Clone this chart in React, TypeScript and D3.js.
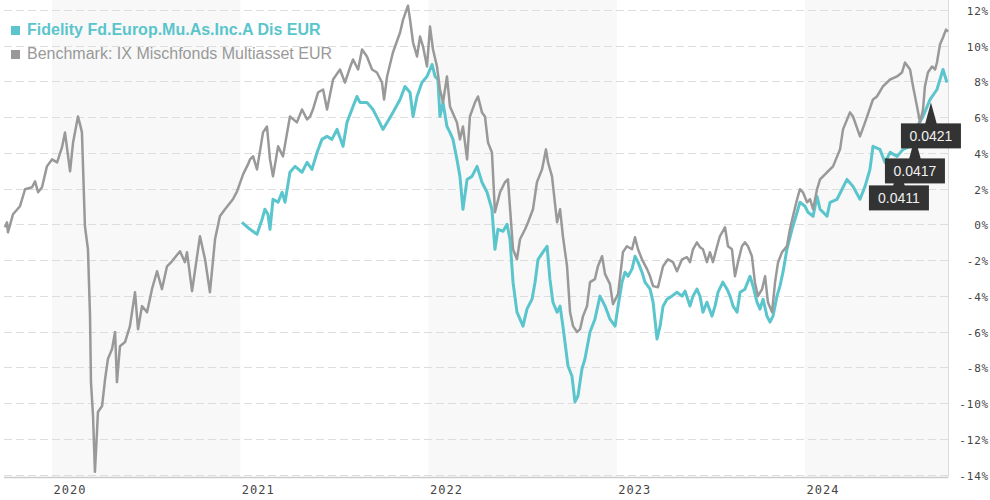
import React from "react";
import * as d3 from "d3";

// ---- data (decimal years, percent) ----
const benchT = [2019.750,2019.761,2019.766,2019.793,2019.830,2019.857,2019.894,2019.910,2019.926,2019.947,2019.973,2020.000,2020.027,2020.053,2020.069,2020.096,2020.112,2020.138,2020.149,2020.159,2020.175,2020.191,2020.202,2020.207,2020.218,2020.228,2020.239,2020.244,2020.266,2020.282,2020.297,2020.319,2020.335,2020.345,2020.361,2020.388,2020.414,2020.441,2020.457,2020.478,2020.505,2020.531,2020.558,2020.584,2020.611,2020.637,2020.680,2020.706,2020.717,2020.744,2020.786,2020.813,2020.839,2020.866,2020.892,2020.919,2020.961,2020.983,2021.015,2021.041,2021.052,2021.068,2021.089,2021.121,2021.142,2021.158,2021.174,2021.201,2021.227,2021.264,2021.301,2021.328,2021.355,2021.371,2021.386,2021.413,2021.440,2021.461,2021.493,2021.530,2021.556,2021.583,2021.599,2021.626,2021.647,2021.673,2021.700,2021.726,2021.753,2021.764,2021.780,2021.811,2021.849,2021.865,2021.891,2021.902,2021.918,2021.939,2021.955,2021.971,2021.992,2022.008,2022.024,2022.045,2022.061,2022.077,2022.098,2022.114,2022.151,2022.167,2022.183,2022.205,2022.220,2022.247,2022.263,2022.284,2022.300,2022.316,2022.337,2022.353,2022.380,2022.406,2022.422,2022.449,2022.470,2022.486,2022.513,2022.529,2022.555,2022.576,2022.603,2022.624,2022.635,2022.656,2022.683,2022.699,2022.714,2022.736,2022.752,2022.768,2022.789,2022.805,2022.821,2022.842,2022.858,2022.884,2022.900,2022.922,2022.938,2022.964,2022.980,2023.007,2023.033,2023.054,2023.081,2023.097,2023.113,2023.134,2023.161,2023.177,2023.193,2023.219,2023.246,2023.272,2023.299,2023.320,2023.347,2023.373,2023.389,2023.405,2023.426,2023.442,2023.458,2023.479,2023.495,2023.511,2023.533,2023.548,2023.575,2023.591,2023.612,2023.628,2023.644,2023.665,2023.681,2023.697,2023.718,2023.734,2023.750,2023.772,2023.788,2023.803,2023.825,2023.841,2023.857,2023.878,2023.904,2023.920,2023.936,2023.958,2023.973,2023.989,2024.011,2024.027,2024.043,2024.064,2024.080,2024.117,2024.149,2024.186,2024.202,2024.239,2024.255,2024.292,2024.319,2024.361,2024.382,2024.414,2024.452,2024.489,2024.515,2024.531,2024.558,2024.574,2024.595,2024.611,2024.627,2024.637,2024.653,2024.675,2024.691,2024.701,2024.717,2024.733,2024.749,2024.760];
const benchV = [-0.17,0.11,-0.45,0.56,1.01,1.96,2.07,2.40,1.79,2.07,3.24,3.63,3.46,4.30,5.14,2.96,4.58,6.03,5.59,5.14,-0.11,-1.40,-5.14,-8.83,-10.73,-13.85,-11.62,-10.50,-10.17,-8.66,-7.54,-6.98,-6.03,-8.83,-6.82,-6.59,-5.70,-3.80,-5.87,-4.58,-4.92,-3.63,-2.63,-3.63,-2.35,-2.07,-1.51,-2.12,-1.56,-3.74,-0.67,-1.96,-3.80,-0.84,0.45,0.84,1.40,1.84,2.79,3.35,3.63,3.80,3.07,5.14,5.47,3.63,2.68,4.36,3.80,6.03,5.70,6.42,5.87,6.03,6.42,7.37,7.54,6.42,8.10,8.66,7.93,8.77,9.22,8.66,9.78,9.39,8.66,8.49,7.93,6.98,8.27,9.61,10.73,11.45,12.23,11.45,10.17,9.39,10.50,9.94,8.83,11.06,9.78,8.83,7.54,6.82,8.27,6.59,5.70,4.75,5.47,3.63,6.03,6.82,7.15,6.26,6.03,4.58,4.02,0.67,1.79,2.35,2.51,-1.40,-1.96,-0.84,-0.28,0.11,0.84,2.35,3.07,4.19,3.46,2.68,0.11,0.84,-0.67,-2.35,-4.92,-5.70,-6.03,-5.87,-5.14,-4.58,-3.24,-3.07,-2.35,-1.79,-2.79,-3.35,-4.47,-3.91,-1.56,-1.23,-1.40,-0.73,-1.40,-1.96,-2.51,-2.91,-3.46,-3.52,-2.35,-1.96,-2.12,-2.63,-1.96,-1.84,-2.12,-1.40,-1.01,-1.28,-1.40,-2.12,-1.56,-2.12,-1.23,-0.67,-0.17,-1.23,-1.40,-2.91,-2.12,-1.23,-1.01,-1.23,-1.79,-3.24,-4.02,-3.63,-2.91,-4.36,-4.92,-3.24,-2.12,-1.56,-1.23,-0.28,0.45,1.40,1.96,1.79,1.23,1.40,0.84,1.96,2.51,2.91,3.24,4.19,5.31,6.26,6.03,4.92,5.70,6.98,7.15,7.71,8.10,8.27,8.49,9.05,8.66,7.71,6.59,5.70,6.42,7.71,8.49,8.83,8.66,9.05,10.06,10.45,10.89,10.78];

const fundT = [2021.009,2021.052,2021.089,2021.116,2021.131,2021.147,2021.158,2021.174,2021.201,2021.222,2021.238,2021.264,2021.291,2021.328,2021.355,2021.381,2021.408,2021.434,2021.461,2021.487,2021.514,2021.546,2021.567,2021.599,2021.620,2021.636,2021.673,2021.705,2021.732,2021.758,2021.780,2021.811,2021.849,2021.875,2021.902,2021.918,2021.939,2021.965,2021.992,2022.019,2022.035,2022.050,2022.061,2022.077,2022.098,2022.114,2022.130,2022.151,2022.167,2022.183,2022.205,2022.231,2022.258,2022.284,2022.311,2022.337,2022.353,2022.369,2022.396,2022.417,2022.433,2022.449,2022.470,2022.486,2022.502,2022.523,2022.550,2022.566,2022.582,2022.608,2022.630,2022.645,2022.661,2022.683,2022.699,2022.714,2022.741,2022.762,2022.778,2022.794,2022.815,2022.831,2022.858,2022.884,2022.911,2022.938,2022.964,2022.991,2023.007,2023.028,2023.044,2023.060,2023.081,2023.097,2023.113,2023.134,2023.150,2023.177,2023.193,2023.214,2023.230,2023.246,2023.267,2023.293,2023.320,2023.347,2023.363,2023.389,2023.405,2023.426,2023.442,2023.458,2023.479,2023.506,2023.522,2023.538,2023.564,2023.586,2023.602,2023.618,2023.639,2023.655,2023.681,2023.708,2023.724,2023.745,2023.761,2023.777,2023.798,2023.814,2023.830,2023.851,2023.867,2023.883,2023.904,2023.931,2023.958,2023.973,2024.000,2024.016,2024.043,2024.064,2024.080,2024.117,2024.133,2024.170,2024.197,2024.223,2024.255,2024.292,2024.319,2024.345,2024.361,2024.398,2024.425,2024.452,2024.489,2024.521,2024.558,2024.595,2024.627,2024.664,2024.701,2024.717,2024.733,2024.754];
const fundV = [0.11,-0.28,-0.56,0.28,0.84,0.56,-0.28,1.40,1.23,1.79,1.23,2.91,3.24,2.91,3.46,3.07,4.02,4.75,4.92,4.75,5.31,4.36,5.70,6.59,7.15,6.82,6.82,6.42,5.87,5.31,5.70,6.26,6.98,7.71,7.37,6.03,7.15,7.93,8.27,8.94,8.27,8.10,6.03,6.82,5.47,5.14,4.75,3.63,2.68,0.84,2.51,2.68,3.24,2.35,1.79,0.84,-1.40,-0.28,-0.39,0.00,-0.84,-3.24,-4.92,-5.31,-5.70,-4.75,-4.19,-3.24,-1.96,-1.56,-1.23,-3.07,-4.36,-4.92,-4.58,-5.70,-7.93,-8.49,-9.94,-9.61,-8.10,-7.54,-6.03,-5.31,-4.02,-4.58,-5.31,-5.70,-4.58,-3.24,-2.68,-2.91,-2.51,-1.79,-2.12,-2.68,-3.24,-3.63,-4.36,-6.42,-5.70,-4.58,-4.19,-4.02,-3.80,-4.02,-3.74,-4.58,-4.02,-3.63,-4.02,-4.92,-4.36,-5.14,-4.58,-3.80,-3.24,-3.63,-4.02,-4.58,-4.92,-3.80,-3.63,-2.91,-3.46,-4.36,-4.75,-4.19,-5.14,-5.47,-5.14,-4.02,-3.46,-2.68,-1.40,-0.28,0.67,1.23,1.01,0.67,0.45,1.56,0.84,0.45,1.23,1.40,1.96,2.51,2.12,1.40,2.12,3.07,4.36,4.19,3.46,4.02,3.80,4.19,4.36,5.47,6.03,6.98,7.54,8.10,8.66,7.93];

const yTicks = [12, 10, 8, 6, 4, 2, 0, -2, -4, -6, -8, -10, -12, -14];
const yearTicks = [2020, 2021, 2022, 2023, 2024];
const shadedYears = [2020, 2022, 2024];

const tipT = [2024.499, 2024.584, 2024.669];
const tipV = [3.35, 4.86, 6.82];
const tipLabels = ["0.0411", "0.0417", "0.0421"];

const seriesNames = ["Fidelity Fd.Europ.Mu.As.Inc.A Dis EUR", "Benchmark: IX Mischfonds Multiasset EUR"];

const TEAL = "#5ac5cc";
const GRAY = "#999999";

export default function App() {
  const W = 990, H = 500;
  const left = 4, right = 948, top = 0, bottom = 477;
  const x = d3.scaleLinear().domain([2020, 2024]).range([52, 805]);
  const y = d3.scaleLinear().domain([-14, 12]).range([474.5, 9.8]);

  const line = d3.line<[number, number]>().x(d => x(d[0])).y(d => y(d[1])).curve(d3.curveLinear);
  const bench = benchT.map((t, i) => [t, benchV[i]] as [number, number]);
  const fund = fundT.map((t, i) => [t, fundV[i]] as [number, number]);

  const axisFont = "'DejaVu Sans Mono', monospace";
  const sans = "'Liberation Sans', Arial, sans-serif";

  return (
    <svg width={W} height={H} style={{ position: "absolute", left: 0, top: 0, background: "#fff" }}>
      {shadedYears.map(yr => (
        <rect key={yr} x={x(yr)} y={top} width={Math.min(x(yr + 1), right) - x(yr)} height={bottom - top} fill="#f8f8f8" />
      ))}
      {yTicks.map(v => (
        <line key={v} x1={left} x2={right} y1={Math.round(y(v)) + 0.5} y2={Math.round(y(v)) + 0.5}
          stroke="#dddddd" strokeWidth={1} strokeDasharray="8,4" />
      ))}
      <line x1={right + 0.5} x2={right + 0.5} y1={0} y2={bottom} stroke="#dcdcdc" strokeWidth={1} />
      <line x1={left} x2={right} y1={bottom + 0.5} y2={bottom + 0.5} stroke="#cccccc" strokeWidth={1.5} />
      {yTicks.map(v => (
        <text key={v} x={989} y={y(v) + 5} textAnchor="end" fontFamily={axisFont} fontSize={11} fill="#444"
          letterSpacing={0.8}>{v}%</text>
      ))}
      {yearTicks.map(yr => (
        <text key={yr} x={x(yr) + 1.5} y={494} fontFamily={axisFont} fontSize={12} fill="#444"
          letterSpacing={1}>{yr}</text>
      ))}
      <path d={line(fund) || ""} fill="none" stroke={TEAL} strokeWidth={3} strokeLinejoin="round" />
      <path d={line(bench) || ""} fill="none" stroke={GRAY} strokeWidth={2.5} strokeLinejoin="round" />

      {/* legend */}
      <rect x={11} y={26} width={9} height={9} fill={TEAL} />
      <text x={27} y={35} fontFamily={sans} fontSize={16} fontWeight="bold" fill={TEAL}>{seriesNames[0]}</text>
      <rect x={11} y={50} width={9} height={9} fill={GRAY} />
      <text x={27} y={59} fontFamily={sans} fontSize={16} fill={GRAY}>{seriesNames[1]}</text>

      {/* annotations */}
      {tipT.map((t, i) => {
        const cx = x(t), ty = y(tipV[i]);
        const bTop = ty + 21;
        return (
          <g key={i}>
            <path d={`M${cx - 6},${bTop + 1} L${cx},${ty} L${cx + 6},${bTop + 1} Z`} fill="#333" />
            <rect x={cx - 30} y={bTop} width={60} height={25} fill="#333" />
            <text x={cx} y={bTop + 17.5} textAnchor="middle" fontFamily={sans}
              fontSize={14} fill="#f0f0f0">{tipLabels[i]}</text>
          </g>
        );
      })}
    </svg>
  );
}
